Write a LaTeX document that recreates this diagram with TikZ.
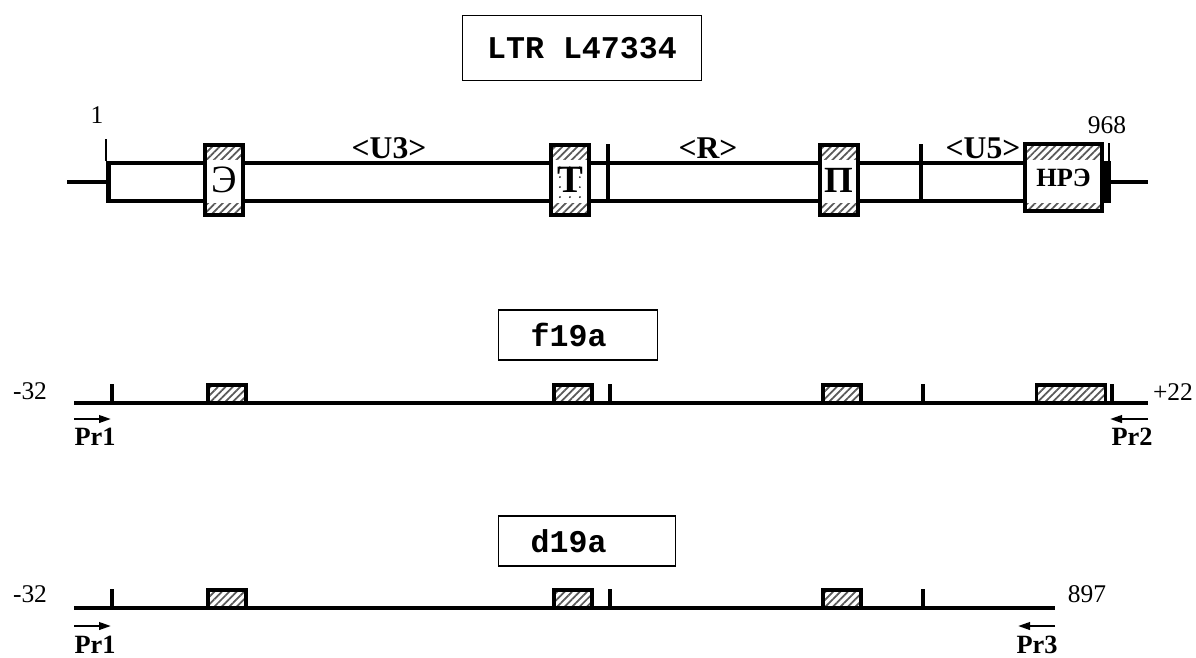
\documentclass[tikz,border=0pt]{standalone}
\usepackage{fontspec}
\setmainfont{Liberation Serif}
\setmonofont{Liberation Mono}
\usetikzlibrary{positioning,arrows.meta,patterns.meta}

\begin{document}
\begin{tikzpicture}[x=0.02cm, y=-0.02cm,
    namebox/.style={draw, line width=0.8pt, inner xsep=0.64cm, inner ysep=0pt, minimum height=1cm, align=left, font=\fontsize{18}{18}\selectfont\ttfamily\bfseries},
    hatch/.style={pattern={Lines[angle=45, distance=3pt, line width=1pt]}, pattern color=black!65},
    dotpat/.style={pattern={Dots[distance=0.2cm, radius=0.55pt]}, pattern color=black},
    elem/.style n args={3}{draw, fill=white, line width=2.3pt, minimum width=#1, minimum height=#2, inner sep=0pt,
        path picture={
            \fill[hatch] (path picture bounding box.north west) rectangle (path picture bounding box.east |- topband);
            \fill[hatch] (path picture bounding box.south east) rectangle (path picture bounding box.west |- botband);
            #3}},
    site/.style={draw, line width=2pt, hatch, minimum height=0.36cm, inner sep=0pt},
    dnaline/.style={line width=2.8pt},
    tickmark/.style={line width=2.2pt},
    thintick/.style={line width=1pt},
    seglbl/.style={font=\fontsize{18}{18}\selectfont\bfseries},
    num/.style={font=\fontsize{14.5}{14.5}\selectfont},
    prlbl/.style={font=\fontsize{15}{15}\selectfont\bfseries},
    primer/.style={-{Triangle[length=2.4mm, width=1.5mm]}, line width=1.3pt}
]
\useasboundingbox (0,0) rectangle (1196,657);

\node[namebox, minimum width=4.78cm, minimum height=1.3cm, inner xsep=0.44cm] (ltr) at (582,48) {LTR L47334};

\node[draw, fill=white, dnaline, minimum width=19.98cm, minimum height=0.76cm, inner sep=0pt] (body) at (607.5,182) {};
\coordinate (topband) at (0,159);
\coordinate (botband) at (0,203);
\coordinate (lstub) at (67,182);
\coordinate (rstub) at (1148,182);
\draw[dnaline] (lstub) -- (body.west);
\draw[dnaline] (body.east) -- (rstub);
\draw[thintick] (body.north west) -- ++(0,-22);
\draw[thintick] (body.north east) -- ++(0,-18);
\draw[tickmark] (body.east) ++(0,-21) -- ++(0,42);
\foreach \x in {608,921}
    \draw[tickmark] (\x,144) -- (\x,201);

\node[elem={0.76cm}{1.4cm}{}, font=\fontsize{22}{22}\selectfont] (enh) at (224,180) {Э};
\node[elem={0.76cm}{1.4cm}{\fill[dotpat] (path picture bounding box.west |- topband) rectangle (path picture bounding box.east |- botband);}, font=\fontsize{22}{22}\selectfont\bfseries] (tata) at (570,180) {Т};
\node[elem={0.76cm}{1.4cm}{}, font=\fontsize{21}{21}\selectfont\bfseries] (polya) at (839,180) {П};
\node[elem={1.54cm}{1.34cm}{}, font=\fontsize{15}{15}\selectfont\bfseries] (nre) at (1063.5,177.5) {НРЭ};

\node[num] (n1) at (97,115) {1};
\node[num] (n968) at (1107,125) {968};
\node[seglbl] (u3) at (389,148) {<U3>};
\node[seglbl] (r) at (708,148) {<R>};
\node[seglbl] (u5) at (983,148) {<U5>};

\node[namebox, text width=1.9cm, anchor=west] (f19a) at (498,335) {f19a};
\coordinate (fa) at (74,403);
\coordinate (fb) at (1148,403);
\draw[dnaline] (fa) -- (fb);
\foreach \x in {112,610,923,1112}
    \draw[tickmark] (\x,403) -- ++(0,-19);
\node[site, minimum width=0.76cm] (fenh) at (227,394) {};
\node[site, minimum width=0.76cm] (ftata) at (573,394) {};
\node[site, minimum width=0.76cm] (fpolya) at (842,394) {};
\node[site, minimum width=1.38cm] (fnre) at (1071,394) {};
\node[num] (fm32) at (30,391) {-32};
\node[num] (fp22) at (1173,392) {+22};
\coordinate (fp1a) at (74,419);
\coordinate (fp1b) at (111,419);
\coordinate (fp2a) at (1148,419);
\coordinate (fp2b) at (1110,419);
\draw[primer] (fp1a) -- (fp1b);
\draw[primer] (fp2a) -- (fp2b);
\node[prlbl] (fpr1) at (95,437) {Pr1};
\node[prlbl] (fpr2) at (1132,437) {Pr2};

\node[namebox, text width=2.26cm, anchor=west] (d19a) at (498,541) {d19a};
\coordinate (da) at (74,608);
\coordinate (db) at (1055,608);
\draw[dnaline] (da) -- (db);
\foreach \x in {112,610,923}
    \draw[tickmark] (\x,608) -- ++(0,-19);
\node[site, minimum width=0.76cm] (denh) at (227,599) {};
\node[site, minimum width=0.76cm] (dtata) at (573,599) {};
\node[site, minimum width=0.76cm] (dpolya) at (842,599) {};
\node[num] (dm32) at (30,594) {-32};
\node[num] (d897) at (1087,594) {897};
\coordinate (dp1a) at (74,626);
\coordinate (dp1b) at (111,626);
\coordinate (dp3a) at (1055,626);
\coordinate (dp3b) at (1018,626);
\draw[primer] (dp1a) -- (dp1b);
\draw[primer] (dp3a) -- (dp3b);
\node[prlbl] (dpr1) at (95,645) {Pr1};
\node[prlbl] (dpr3) at (1037,645) {Pr3};

\end{tikzpicture}
\end{document}
